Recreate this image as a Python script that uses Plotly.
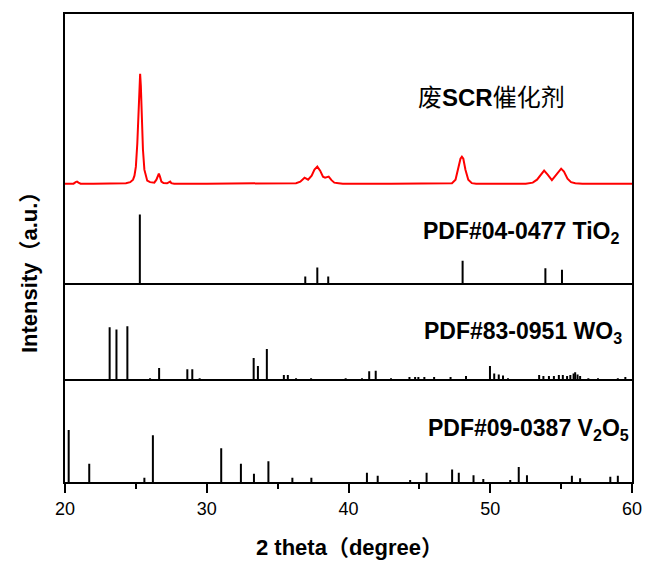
import plotly.graph_objects as go

# ---------------- data ----------------
# waste SCR catalyst XRD pattern (2theta, relative intensity)
scr_x = [20.0, 20.6, 20.75, 20.85, 20.95, 21.1, 22.0, 23.5, 24.3, 24.6, 24.8, 24.9, 25.0, 25.1,
         25.2, 25.25, 25.3, 25.35, 25.4, 25.5, 25.6, 25.7, 25.8, 26.0, 26.3, 26.45, 26.55, 26.62,
         26.7, 26.8, 26.95, 27.2, 27.35, 27.42, 27.5, 27.7, 30.0, 34.0, 35.5, 36.3, 36.6, 36.9,
         37.15, 37.4, 37.6, 37.8, 38.0, 38.2, 38.35, 38.6, 38.8, 39.0, 39.3, 39.6, 43.0, 46.5,
         47.3, 47.55, 47.75, 47.9, 48.0, 48.1, 48.25, 48.45, 48.7, 49.0, 52.5, 53.0, 53.3, 53.55,
         53.8, 54.05, 54.35, 54.55, 54.8, 55.0, 55.2, 55.45, 55.7, 56.0, 56.5, 60.0]
scr_y = [0, 0, 1.5, 2, 1, 0, 0, 0, 0.5, 1.5, 4, 8, 17, 40,
         70, 98, 110, 98, 70, 34, 14, 7, 3, 1.5, 1, 4, 9, 10,
         7, 2, 0.5, 0.3, 1.5, 2, 0.5, 0, 0, 0, 0, 0.5, 2, 6,
         4, 8, 14, 17, 13, 7, 6, 7, 3.5, 1, 0.5, 0, 0, 0,
         0.5, 4, 15, 25, 27, 25, 14, 4, 0.5, 0, 0, 1, 4, 9,
         13, 9, 3.5, 7, 12, 15, 12, 5, 1.5, 0.5, 0, 0]

# PDF#04-0477 TiO2
tio2_pos = [25.28, 36.95, 37.80, 38.57, 48.05, 53.89, 55.06]
tio2_int = [100, 10, 23, 10, 33, 22, 20]

# PDF#83-0951 WO3
wo3_pos = [23.15, 23.63, 24.40, 26.0, 26.64, 28.63, 28.98, 29.5, 33.31, 33.61, 34.24, 35.44,
           35.72, 36.3, 37.36, 39.8, 40.95, 41.46, 41.92, 43.0, 44.3, 44.7, 44.93, 45.35, 46.04,
           47.2, 48.29, 49.98, 50.28, 50.6, 50.9, 51.25, 53.45, 53.75, 54.14, 54.49, 54.84,
           55.12, 55.42, 55.65, 55.88, 55.99, 56.16, 56.34, 56.92, 57.6, 59.0, 59.53]
wo3_int = [98, 94, 100, 2, 21, 19, 19, 2, 40, 25, 57, 8,
           8, 2, 2, 2, 2, 15, 16, 2, 4, 4, 4, 4, 4,
           4, 6, 25, 11, 9, 7, 2, 8, 6, 6, 6, 8,
           8, 6, 8, 11, 13, 9, 6, 2, 2, 2, 4]

# PDF#09-0387 V2O5
v2o5_pos = [20.26, 21.71, 25.6, 26.2, 31.02, 32.41, 33.33, 34.35, 36.04, 37.38, 41.3, 42.06,
            44.35, 45.51, 47.31, 47.78, 48.82, 49.51, 51.41, 52.01, 52.59, 55.76, 56.34, 58.47, 59.0]
v2o5_int = [100, 35, 8, 90, 65, 35, 16, 40, 8, 8, 18, 12,
            4, 18, 24, 18, 13, 6, 4, 29, 13, 12, 7, 10, 12]

x_ticks = [20, 30, 40, 50, 60]

SUB = '<sub>{}</sub>'
labels = {
    "scr": "废<b>SCR</b>催化剂",
    "tio2": "<b>PDF#04-0477 TiO" + SUB.format("2") + "</b>",
    "wo3": "<b>PDF#83-0951 WO" + SUB.format("3") + "</b>",
    "v2o5": "<b>PDF#09-0387 V" + SUB.format("2") + "O" + SUB.format("5") + "</b>",
}
x_title = "<b>2 theta（degree）</b>"
y_title = "<b>Intensity（a.u.）</b>"


def sticks(pos, inten):
    xs, ys = [], []
    for p, h in zip(pos, inten):
        xs += [p, p, None]
        ys += [0, h, None]
    return xs, ys


FONT = "Liberation Sans, Arial, Noto Sans CJK SC, sans-serif"

fig = go.Figure()

tx, ty = sticks(tio2_pos, tio2_int)
fig.add_trace(go.Scatter(x=tx, y=ty, mode="lines", line=dict(color="black", width=2),
                         xaxis="x3", yaxis="y3", showlegend=False))
fig.add_trace(go.Scatter(x=scr_x, y=scr_y, mode="lines", line=dict(color="#ff0000", width=2),
                         xaxis="x3", yaxis="y4", showlegend=False))
wx, wy = sticks(wo3_pos, wo3_int)
fig.add_trace(go.Scatter(x=wx, y=wy, mode="lines", line=dict(color="black", width=2),
                         xaxis="x2", yaxis="y2", showlegend=False))
vx, vy = sticks(v2o5_pos, v2o5_int)
fig.add_trace(go.Scatter(x=vx, y=vy, mode="lines", line=dict(color="black", width=2),
                         xaxis="x", yaxis="y", showlegend=False))

H = 469.0
d1 = 103 / H
d2 = 199 / H

common_x = dict(range=[20, 60], showline=True, linecolor="black", linewidth=2,
                showgrid=False, zeroline=False)
common_y = dict(showline=True, linecolor="black", linewidth=2, mirror=True, showgrid=False,
                zeroline=False, showticklabels=False, ticks="")

fig.update_layout(
    width=654, height=561,
    margin=dict(l=65, r=13, t=13, b=79),
    paper_bgcolor="white", plot_bgcolor="white",
    font=dict(family=FONT, color="black"),
    xaxis=dict(**common_x, anchor="y", mirror=False, tickvals=x_ticks, ticks="outside",
               ticklen=9, tickwidth=1.5, tickcolor="black",
               tickfont=dict(size=18, family=FONT, color="black"),
               minor=dict(dtick=5, tick0=20, ticks="outside", ticklen=5, tickwidth=1.5,
                          tickcolor="black")),
    xaxis2=dict(**common_x, anchor="y2", mirror=False, matches="x", showticklabels=False,
                ticks=""),
    xaxis3=dict(**common_x, anchor="y3", mirror=True, matches="x", showticklabels=False,
                ticks=""),
    yaxis=dict(**common_y, domain=[0, d1], range=[0, 198]),
    yaxis2=dict(**common_y, domain=[d1, d2], range=[0, 181]),
    yaxis3=dict(**common_y, domain=[d2, 1], range=[0, 391]),
    yaxis4=dict(range=[-100, 170], overlaying="y3", anchor="x3", showline=False,
                showgrid=False, zeroline=False, showticklabels=False, ticks=""),
)

ann = [
    dict(text=labels["scr"], x=(498 - 65) / 576, y=(482 - 97) / H, font=dict(size=24)),
    dict(text=labels["tio2"], x=(631 - 65) / 576, y=(482 - 232) / H, xanchor="right",
         font=dict(size=23)),
    dict(text=labels["wo3"], x=(633 - 65) / 576, y=(482 - 332) / H, xanchor="right",
         font=dict(size=23)),
    dict(text=labels["v2o5"], x=(640 - 65) / 576, y=(482 - 429) / H, xanchor="right",
         font=dict(size=23)),
    dict(text=x_title, x=(354 - 65) / 576, y=(482 - 548) / H, font=dict(size=22)),
    dict(text=y_title, x=(29 - 65) / 576, y=(482 - 267) / H, textangle=-90, font=dict(size=22)),
]
for a in ann:
    a.setdefault("xanchor", "center")
    fig.add_annotation(xref="paper", yref="paper", showarrow=False, yanchor="middle",
                       **{k: v for k, v in a.items()})
for a in fig.layout.annotations:
    a.font.family = FONT
    a.font.color = "black"

fig.write_html("out.html")
